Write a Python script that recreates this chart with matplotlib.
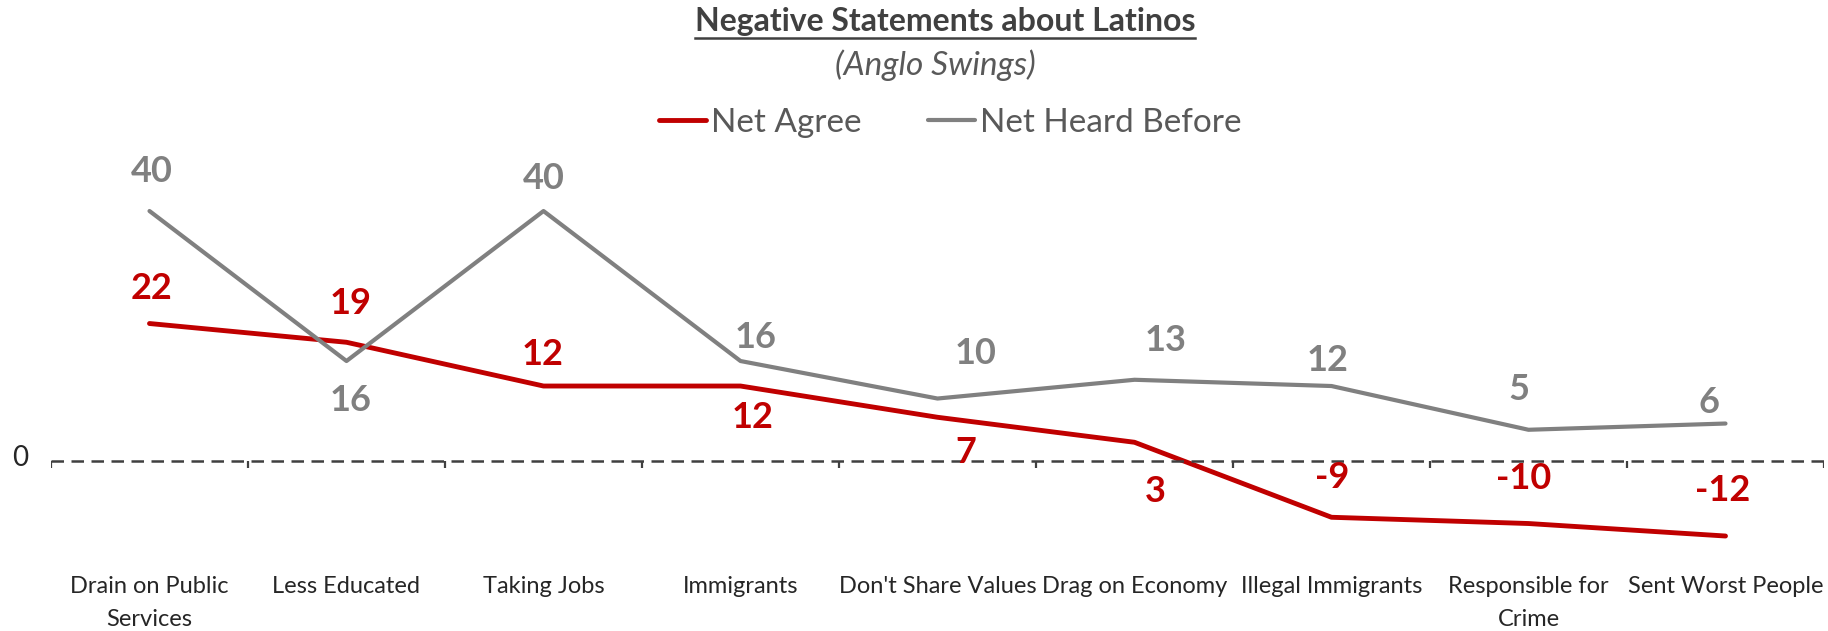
import matplotlib
matplotlib.use("Agg")
import matplotlib.pyplot as plt
from matplotlib.lines import Line2D

plt.rcParams['font.family'] = ['Lato', 'DejaVu Sans']

categories = ["Drain on Public\nServices", "Less Educated", "Taking Jobs", "Immigrants",
              "Don't Share Values", "Drag on Economy", "Illegal Immigrants",
              "Responsible for\nCrime", "Sent Worst People"]
net_agree = [22, 19, 12, 12, 7, 3, -9, -10, -12]
net_heard = [40, 16, 40, 16, 10, 13, 12, 5, 6]

# label offsets in pixels (dx, dy) relative to each point
agree_off = [(2, 35), (4, 39), (-1, 32), (12, -31), (28, -35), (21, -49), (1, 40), (-5, 45), (-3, 46)]
heard_off = [(2, 40), (4, -39), (0, 33), (15, 24), (38, 45), (31, 39), (-4, 26), (-10, 40), (-16, 21)]

RED = '#C00000'
GRAY = '#808080'

fig = plt.figure(figsize=(18.28, 6.31), dpi=100)
ax = fig.add_axes([51/1828, 0.1208, 1773/1828, 0.5943])
x = list(range(len(categories)))

ax.plot(x, net_agree, color=RED, lw=3.5, label='Net Agree', solid_capstyle='round')
ax.plot(x, net_heard, color=GRAY, lw=3.0, label='Net Heard Before', solid_capstyle='round')

for i in x:
    dx, dy = agree_off[i]
    ax.annotate(str(net_agree[i]), (i, net_agree[i]), xytext=(dx, dy),
                textcoords='offset pixels', ha='center', va='center',
                color=RED, fontsize=26, fontweight='bold')
    dx, dy = heard_off[i]
    ax.annotate(str(net_heard[i]), (i, net_heard[i]), xytext=(dx, dy),
                textcoords='offset pixels', ha='center', va='center',
                color=GRAY, fontsize=26, fontweight='bold')

ax.set_xlim(-0.5, len(categories) - 0.5)
ax.set_ylim(-15, 45)
for s in ax.spines.values():
    s.set_visible(False)

# dashed zero axis with boundary ticks
ax.axhline(0, color='#404040', lw=1.8, ls=(0, (5, 3)))
ax.vlines([k - 0.5 for k in range(len(categories) + 1)], 0, -1.1, color='#404040', lw=1.6)
ax.set_xticks([])
ax.set_yticks([])
ax.annotate('0', (-0.5, 0), xytext=(-31, 3), textcoords='offset pixels',
            ha='center', va='center', fontsize=20, color='#262626')

for i, c in enumerate(categories):
    ax.annotate(c, (i, 0), xycoords=('data', 'axes fraction'), xytext=(0, -21),
                textcoords='offset pixels', ha='center', va='top',
                fontsize=17, color='#262626', linespacing=1.7)

title = fig.text(945/1828, 1 - 21/631, 'Negative Statements about Latinos',
                 ha='center', va='center', fontsize=23, fontweight='bold', color='#404040')
fig.text(935/1828, 1 - 65/631, '(Anglo Swings)', ha='center', va='center',
         fontsize=24, style='italic', color='#595959')

leg = fig.legend(loc='center', bbox_to_anchor=(950/1828, 1 - 123/631), ncol=2,
                 frameon=False, fontsize=24, handlelength=1.4, handletextpad=0.15,
                 columnspacing=2.0)
for t in leg.get_texts():
    t.set_color('#595959')

# underline under the title
fig.canvas.draw()
bb = title.get_window_extent().transformed(fig.transFigure.inverted())
fig.add_artist(Line2D([bb.x0, bb.x1], [bb.y0 - 0.004, bb.y0 - 0.004],
                      transform=fig.transFigure, color='#404040', lw=1.8))

fig.savefig('out.png', dpi=100)
